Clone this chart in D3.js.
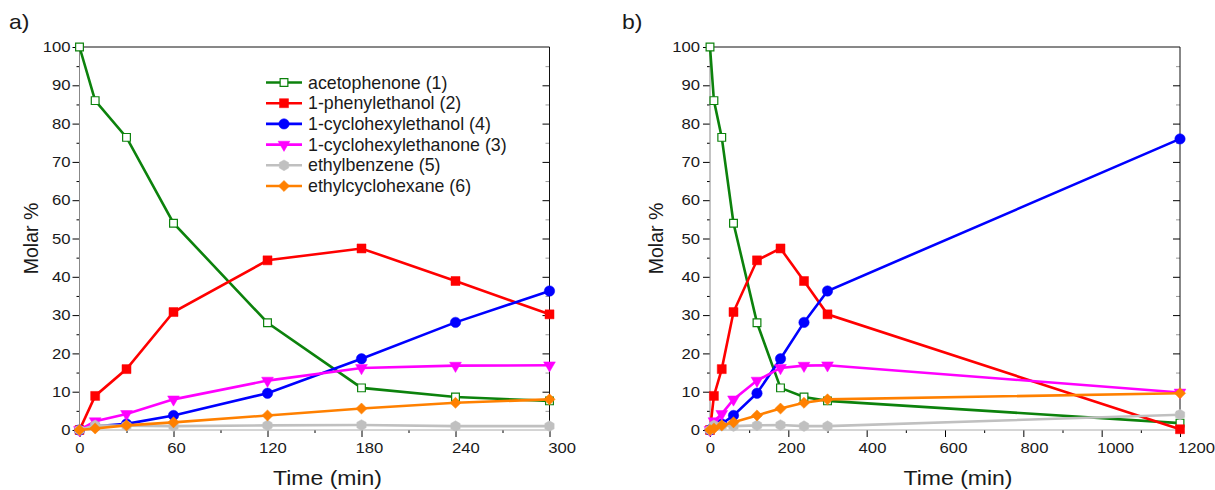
<!DOCTYPE html>
<html>
<head>
<meta charset="utf-8">
<script src="https://cdn.jsdelivr.net/npm/d3@7"></script>
<style>
  body { margin: 0; background: #fff; }
  text { font-family: "Liberation Sans", Arial, sans-serif; fill: #1a1a1a; }
</style>
</head>
<body>
<svg id="chart" width="1215" height="490"></svg>
<script>
// Sampling times (min) and molar % of each compound
const TIMES = [0, 10, 30, 60, 120, 180, 240, 300, 1200];

const ACETOPHENONE = [100, 86, 76.4, 54, 28, 11, 8.6, 7.6, 1.8];
const PHENYLETHANOL = [0, 8.9, 15.9, 30.8, 44.3, 47.4, 38.9, 30.2, 0.2];
const CYCLOHEXYLETHANOL = [0, 1.0, 1.6, 3.8, 9.6, 18.6, 28.1, 36.3, 76];
const CYCLOHEXYLETHANONE = [0, 2.3, 4.2, 8.0, 12.9, 16.2, 16.8, 16.9, 9.8];
const ETHYLBENZENE = [0, 1.2, 1.1, 1.0, 1.2, 1.3, 1.0, 1.0, 4.0];
const ETHYLCYCLOHEXANE = [0, 0.4, 1.2, 2.0, 3.8, 5.6, 7.1, 8.0, 9.6];

const SERIES_NAMES = [
  "acetophenone (1)",
  "1-phenylethanol (2)",
  "1-cyclohexylethanol (4)",
  "1-cyclohexylethanone (3)",
  "ethylbenzene (5)",
  "ethylcyclohexane (6)",
];

// Tick values of both panels
const Y_TICKS = d3.range(0, 101, 10);
const Y_MINOR = d3.range(5, 100, 10);
const X_TICKS_A = [0, 60, 120, 180, 240, 300];
const X_MINOR_A = [30, 90, 150, 210, 270];
const X_TICKS_B = [0, 200, 400, 600, 800, 1000, 1200];
const X_MINOR_B = [100, 300, 500, 700, 900, 1100];

// Hexagon marker used by ethylbenzene
const symbolHexagon = {
  draw(context, size) {
    const r = Math.sqrt(size / (1.5 * Math.sqrt(3)));
    for (let i = 0; i < 6; i++) {
      const a = Math.PI / 6 + i * Math.PI / 3;
      const px = r * Math.cos(a), py = r * Math.sin(a);
      if (i === 0) context.moveTo(px, py); else context.lineTo(px, py);
    }
    context.closePath();
  }
};

// Style of each series: colour and marker
const STYLES = [
  { color: "#0c820c", symbol: d3.symbolSquare, size: 60, open: true, rotate: 0 },
  { color: "#ff0000", symbol: d3.symbolSquare, size: 81, open: false, rotate: 0 },
  { color: "#0000ff", symbol: d3.symbolCircle, size: 85, open: false, rotate: 0 },
  { color: "#ff00ff", symbol: d3.symbolTriangle, size: 60, open: false, rotate: 180 },
  { color: "#c0c0c0", symbol: symbolHexagon, size: 75, open: false, rotate: 0 },
  { color: "#ff8000", symbol: d3.symbolSquare, size: 62, open: false, rotate: 45 },
];

const VALUES = [ACETOPHENONE, PHENYLETHANOL, CYCLOHEXYLETHANOL,
                CYCLOHEXYLETHANONE, ETHYLBENZENE, ETHYLCYCLOHEXANE];

const svg = d3.select("#chart");

// Plot box (shared vertical extent)
const TOP = 47;
const BOTTOM = 430;
// The figure's lettering is slightly wide, so tick labels get a horizontal stretch
const TEXT_STRETCH = 1.15;

const drawMarker = (g, style, cx, cy) => {
  g.append("path")
    .attr("d", d3.symbol().type(style.symbol).size(style.size)())
    .attr("transform", `translate(${cx},${cy}) rotate(${style.rotate})`)
    .attr("fill", style.open ? "#fff" : style.color)
    .attr("stroke", style.color)
    .attr("stroke-width", style.open ? 1.2 : 0.5);
};

const drawPanel = (cfg) => {
  const x = d3.scaleLinear().domain(cfg.domain).range([cfg.left, cfg.right]);
  const y = d3.scaleLinear().domain([0, 100]).range([BOTTOM, TOP]);
  const g = svg.append("g");

  // Bottom axis, major ticks with labels
  const xAxis = g.append("g")
    .attr("transform", `translate(0,${BOTTOM})`)
    .call(d3.axisBottom(x).tickValues(cfg.ticks).tickSize(7).tickPadding(6)
      .tickFormat(d3.format("d")));
  xAxis.select(".domain").remove();
  xAxis.selectAll(".tick text")
    .attr("font-size", 14.5)
    .attr("transform", (d) =>
      `translate(${(x(d) - cfg.left) * cfg.labelSpread},0) scale(${TEXT_STRETCH},1)`);
  // Bottom minor ticks
  g.append("g")
    .attr("transform", `translate(0,${BOTTOM})`)
    .call(d3.axisBottom(x).tickValues(cfg.minor).tickSize(3).tickFormat(""))
    .select(".domain").remove();

  // Left axis
  const yAxis = g.append("g")
    .attr("transform", `translate(${cfg.left},0)`)
    .call(d3.axisLeft(y).tickValues(Y_TICKS).tickSize(7).tickPadding(2));
  yAxis.select(".domain").remove();
  yAxis.selectAll(".tick text")
    .attr("font-size", 14.5)
    .attr("x", -(7 + cfg.yPad) / TEXT_STRETCH)
    .attr("transform", `scale(${TEXT_STRETCH},1)`);
  g.append("g")
    .attr("transform", `translate(${cfg.left},0)`)
    .call(d3.axisLeft(y).tickValues(Y_MINOR).tickSize(3).tickFormat(""))
    .select(".domain").remove();

  // Right axis, ticks pointing inward
  g.append("g")
    .attr("transform", `translate(${cfg.right},0)`)
    .call(d3.axisLeft(y).tickValues(Y_TICKS.slice(1, -1)).tickSize(7).tickFormat(""))
    .select(".domain").remove();
  g.append("g")
    .attr("transform", `translate(${cfg.right},0)`)
    .call(d3.axisLeft(y).tickValues(Y_MINOR).tickSize(4).tickFormat(""))
    .call((a) => a.selectAll("line").attr("stroke", "#999"))
    .select(".domain").remove();

  // Frame: left and bottom are grey, top and right black
  g.append("line").attr("x1", cfg.left).attr("x2", cfg.left)
    .attr("y1", TOP).attr("y2", BOTTOM).attr("stroke", "#888");
  g.append("line").attr("x1", cfg.left).attr("x2", cfg.right)
    .attr("y1", BOTTOM).attr("y2", BOTTOM).attr("stroke", "#aaa");
  g.append("line").attr("x1", cfg.left).attr("x2", cfg.right)
    .attr("y1", TOP).attr("y2", TOP).attr("stroke", "#111");
  g.append("line").attr("x1", cfg.right).attr("x2", cfg.right)
    .attr("y1", TOP).attr("y2", BOTTOM).attr("stroke", "#111");

  // Series lines and markers
  const n = TIMES.filter((t) => t <= cfg.domain[1]).length;
  const line = d3.line().x((d) => x(d[0])).y((d) => y(d[1]));
  VALUES.forEach((vals, i) => {
    const style = STYLES[i];
    const pts = TIMES.slice(0, n).map((t, k) => [t, vals[k]]);
    g.append("path")
      .datum(pts)
      .attr("d", line)
      .attr("fill", "none")
      .attr("stroke", style.color)
      .attr("stroke-width", 2.6);
    pts.forEach((p) => drawMarker(g, style, x(p[0]), y(p[1])));
  });

  // Axis titles and panel letter
  g.append("text")
    .attr("transform", `translate(${(cfg.left + cfg.right) / 2 + 13},485) scale(1.18,1)`)
    .attr("text-anchor", "middle")
    .attr("font-size", 19.5)
    .text("Time (min)");
  g.append("text")
    .attr("transform", `translate(${cfg.titleX},${(TOP + BOTTOM) / 2}) rotate(-90)`)
    .attr("text-anchor", "middle")
    .attr("font-size", 19.5)
    .text("Molar %");
  g.append("text")
    .attr("transform", `translate(${cfg.letterX},29) scale(1.15,1)`)
    .attr("font-size", 20)
    .text(cfg.letter);
};

drawPanel({
  domain: [0, 300], left: 79.5, right: 549.5,
  ticks: X_TICKS_A, minor: X_MINOR_A, labelSpread: 0.026, yPad: 2,
  titleX: 38, letterX: 9, letter: "a)",
});
drawPanel({
  domain: [0, 1200], left: 710, right: 1180,
  ticks: X_TICKS_B, minor: X_MINOR_B, labelSpread: 0.034, yPad: 3,
  titleX: 663, letterX: 622, letter: "b)",
});

// Legend in panel a
const legend = svg.append("g");
SERIES_NAMES.forEach((name, i) => {
  const cy = 82.5 + i * 20.7;
  const style = STYLES[i];
  legend.append("line")
    .attr("x1", 266).attr("x2", 302)
    .attr("y1", cy).attr("y2", cy)
    .attr("stroke", style.color)
    .attr("stroke-width", 2.6);
  drawMarker(legend, style, 284, cy);
  legend.append("text")
    .attr("x", 308)
    .attr("y", cy + 6)
    .attr("font-size", 17.8)
    .text(name);
});
</script>
</body>
</html>
